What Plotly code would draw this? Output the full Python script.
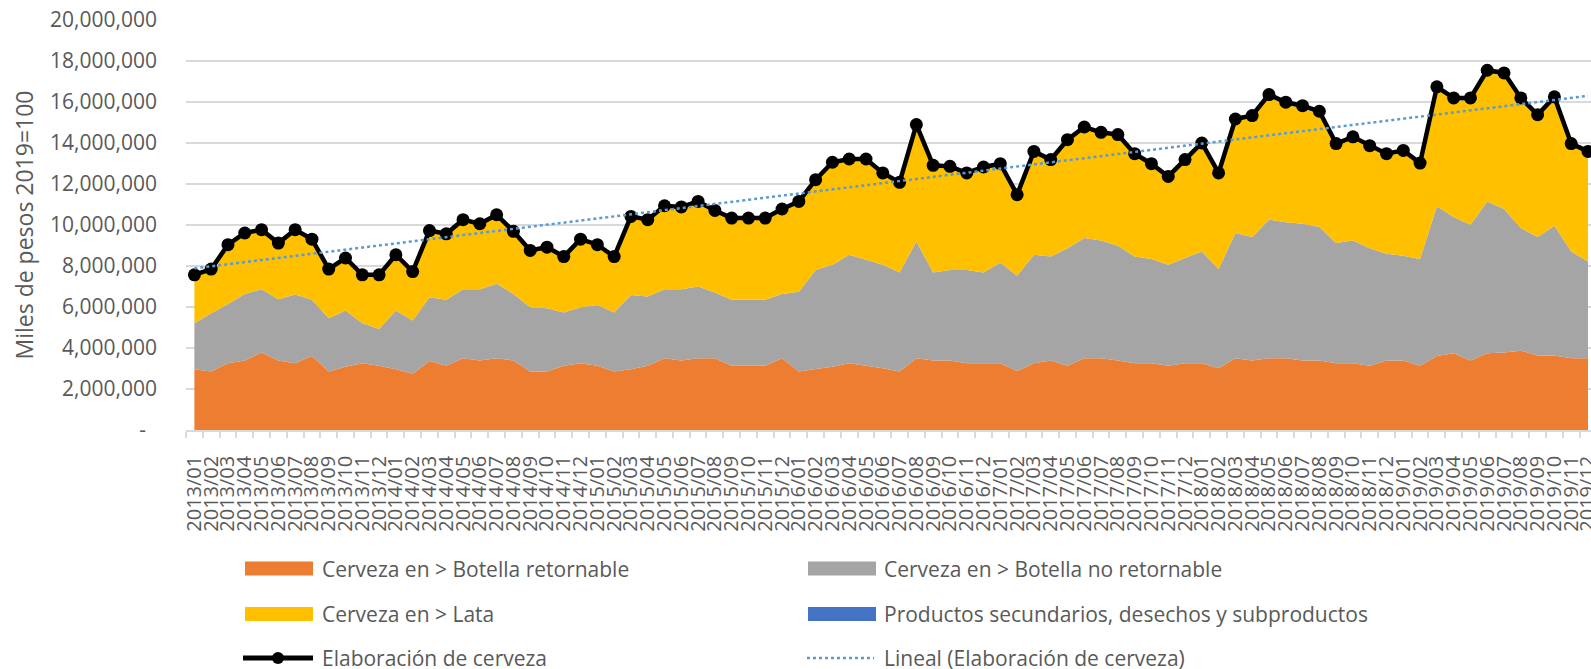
import numpy as np
import plotly.graph_objects as go

# ---- Data (values in millions of "miles de pesos 2019=100") ----
months = [f"{y}/{m:02d}" for y in range(2013, 2020) for m in range(1, 13)]

botella_retornable = [
    2.96, 2.85, 3.26, 3.39, 3.78, 3.39, 3.26, 3.61, 2.85, 3.09, 3.26, 3.13,
    2.96, 2.74, 3.37, 3.13, 3.50, 3.39, 3.50, 3.39, 2.85, 2.85, 3.13, 3.26,
    3.13, 2.85, 2.96, 3.13, 3.50, 3.39, 3.50, 3.50, 3.13, 3.13, 3.13, 3.50,
    2.85, 2.97, 3.09, 3.26, 3.13, 3.01, 2.85, 3.50, 3.39, 3.39, 3.26, 3.26,
    3.26, 2.88, 3.26, 3.39, 3.13, 3.50, 3.50, 3.39, 3.26, 3.26, 3.13, 3.26,
    3.26, 3.01, 3.50, 3.39, 3.50, 3.50, 3.39, 3.39, 3.26, 3.26, 3.13, 3.39,
    3.39, 3.13, 3.61, 3.74, 3.39, 3.74, 3.78, 3.87, 3.64, 3.64, 3.50, 3.50,
]
botella_no_retornable = [
    2.25, 2.85, 2.89, 3.25, 3.09, 2.99, 3.35, 2.74, 2.60, 2.74, 1.95, 1.80,
    2.87, 2.60, 3.11, 3.22, 3.37, 3.48, 3.63, 3.25, 3.14, 3.09, 2.60, 2.73,
    2.97, 2.88, 3.63, 3.38, 3.37, 3.48, 3.50, 3.21, 3.22, 3.22, 3.22, 3.14,
    3.90, 4.83, 4.97, 5.29, 5.17, 5.05, 4.83, 5.70, 4.29, 4.42, 4.55, 4.42,
    4.91, 4.64, 5.29, 5.07, 5.74, 5.86, 5.75, 5.60, 5.20, 5.08, 4.93, 5.13,
    5.45, 4.84, 6.11, 6.02, 6.76, 6.63, 6.67, 6.51, 5.86, 5.99, 5.74, 5.21,
    5.11, 5.21, 7.30, 6.65, 6.62, 7.41, 7.00, 5.98, 5.77, 6.32, 5.21, 4.72,
]
lata = [
    2.31, 2.10, 2.83, 2.91, 2.84, 2.69, 3.10, 2.91, 2.35, 2.51, 2.31, 2.59,
    2.67, 2.34, 3.19, 3.16, 3.33, 3.13, 3.30, 2.99, 2.71, 2.92, 2.68, 3.26,
    2.88, 2.68, 3.76, 3.68, 3.99, 3.93, 4.07, 3.93, 3.92, 3.92, 3.92, 4.06,
    4.32, 4.32, 4.91, 4.58, 4.83, 4.40, 4.32, 5.61, 5.15, 4.97, 4.65, 5.07,
    4.74, 3.89, 4.95, 4.64, 5.19, 5.32, 5.17, 5.32, 4.93, 4.56, 4.22, 4.71,
    5.19, 4.60, 5.45, 5.82, 5.97, 5.74, 5.64, 5.53, 4.75, 4.94, 4.90, 4.78,
    5.04, 4.58, 5.71, 5.69, 6.07, 6.27, 6.51, 6.23, 5.86, 6.17, 5.16, 5.27,
]
secundarios = [
    0.05, 0.05, 0.06, 0.06, 0.06, 0.05, 0.06, 0.05, 0.05, 0.05, 0.05, 0.05,
    0.05, 0.05, 0.06, 0.06, 0.06, 0.06, 0.07, 0.06, 0.06, 0.06, 0.05, 0.06,
    0.06, 0.05, 0.07, 0.07, 0.08, 0.08, 0.08, 0.07, 0.07, 0.07, 0.07, 0.08,
    0.08, 0.09, 0.09, 0.09, 0.09, 0.08, 0.08, 0.09, 0.08, 0.08, 0.08, 0.08,
    0.08, 0.07, 0.09, 0.09, 0.10, 0.10, 0.10, 0.10, 0.09, 0.09, 0.09, 0.09,
    0.10, 0.09, 0.11, 0.11, 0.13, 0.12, 0.12, 0.12, 0.10, 0.11, 0.10, 0.10,
    0.10, 0.10, 0.12, 0.12, 0.12, 0.13, 0.13, 0.12, 0.11, 0.12, 0.10, 0.10,
]

y_tick_vals = [0, 2, 4, 6, 8, 10, 12, 14, 16, 18, 20]
y_tick_text = ["-\u00a0\u00a0", "2,000,000", "4,000,000", "6,000,000", "8,000,000",
               "10,000,000", "12,000,000", "14,000,000", "16,000,000",
               "18,000,000", "20,000,000"]

legend_labels = [
    "Cerveza en > Botella retornable",
    "Cerveza en > Botella no retornable",
    "Cerveza en > Lata",
    "Productos secundarios, desechos y subproductos",
    "Elaboración de cerveza",
    "Lineal (Elaboración de cerveza)",
]

M = 1e6
def sc(a):
    return [v * M for v in a]

total = [a + b + c + d for a, b, c, d in zip(botella_retornable, botella_no_retornable, lata, secundarios)]
idx = np.arange(len(total))
slope, intercept = np.polyfit(idx, np.array(total), 1)
trend = list(slope * idx + intercept)

C_OR, C_GR, C_YE, C_BL = "#ED7D31", "#A5A5A5", "#FFC000", "#4472C4"
C_TR = "#5B9BD5"
TXT = "#595959"
FONT = "Open Sans"

fig = go.Figure()
for name, vals, col in [
    (legend_labels[0], botella_retornable, C_OR),
    (legend_labels[1], botella_no_retornable, C_GR),
    (legend_labels[2], lata, C_YE),
    (legend_labels[3], secundarios, C_BL),
]:
    fig.add_trace(go.Scatter(x=months, y=sc(vals), name=name, stackgroup="one",
                             mode="none", fillcolor=col, showlegend=False))

fig.add_trace(go.Scatter(x=months, y=sc(total), name=legend_labels[4], mode="lines+markers",
                         line=dict(color="black", width=4.5),
                         marker=dict(color="black", size=13), showlegend=False))
fig.add_trace(go.Scatter(x=months, y=sc(trend), name=legend_labels[5], mode="lines",
                         line=dict(color=C_TR, width=2.5, dash="dot"), showlegend=False))

# ---- layout geometry (pixels; page body margin removed below) ----
W, H = 1591, 669
L, R, T = 186, 0, 20
B = H - 430
PW, PH = W - L - R, H - T - B

def px(xp):
    return (xp - L) / PW

def py(yp):
    return (T + PH - yp) / PH

shapes = []
annotations = []
rows = [568.5, 614, 658]
cols_sw = [(245, 313), (808, 876)]
cols_tx = [320, 882]
fills = [C_OR, C_GR, C_YE, C_BL]
for k, lab in enumerate(legend_labels):
    r, c = divmod(k, 2)
    yc = rows[r]
    x0, x1 = cols_sw[c]
    if k < 4:
        shapes.append(dict(type="rect", xref="paper", yref="paper",
                           x0=px(x0), x1=px(x1), y0=py(yc + 7), y1=py(yc - 7),
                           fillcolor=fills[k], line=dict(width=0)))
    elif k == 4:
        shapes.append(dict(type="line", xref="paper", yref="paper",
                           x0=px(x0 - 2), x1=px(x1), y0=py(yc), y1=py(yc),
                           line=dict(color="black", width=5)))
        shapes.append(dict(type="circle", xref="paper", yref="paper",
                           x0=px(272), x1=px(284), y0=py(yc + 6), y1=py(yc - 6),
                           fillcolor="black", line=dict(width=0)))
    else:
        shapes.append(dict(type="line", xref="paper", yref="paper",
                           x0=px(x0 - 1), x1=px(x1 - 2), y0=py(yc), y1=py(yc),
                           line=dict(color=C_TR, width=2.5, dash="dot")))
    annotations.append(dict(xref="paper", yref="paper", x=px(cols_tx[c]), y=py(yc),
                            xanchor="left", yanchor="middle", showarrow=False,
                            text=lab, font=dict(family=FONT, size=21, color=TXT)))

fig.update_layout(
    width=W, height=H,
    margin=dict(l=L, r=R, t=T, b=B, autoexpand=False),
    paper_bgcolor="white", plot_bgcolor="white",
    font=dict(family=FONT, color=TXT),
    shapes=shapes, annotations=annotations,
    showlegend=False,
)
fig.update_xaxes(
    type="category", range=[-0.5, 83.18],
    tickmode="array", tickvals=months, ticktext=months,
    tickangle=-90, tickfont=dict(family=FONT, size=20, color=TXT),
    showgrid=False, showline=True, linecolor="#D9D9D9", linewidth=1.5,
    ticks="outside", ticklen=6, tickcolor="#D9D9D9", tickwidth=1.5,
    tickson="boundaries", automargin=False, zeroline=False, ticklabelstandoff=16,
)
fig.update_yaxes(
    range=[0, 20 * M], tickmode="array", tickvals=[v * M for v in y_tick_vals], ticktext=y_tick_text,
    tickfont=dict(family=FONT, size=21, color=TXT),
    showgrid=True, gridcolor="#D9D9D9", gridwidth=1.5,
    zeroline=False, showline=False, ticks="", ticklabelstandoff=28,
    title=dict(text="Miles de pesos 2019=100", font=dict(family=FONT, size=23, color=TXT), standoff=10),
    automargin=False,
)

fig.write_html(
    "out.html",
    config={"displayModeBar": False},
    post_script="document.body.style.margin='0';document.body.style.overflow='hidden';",
)
